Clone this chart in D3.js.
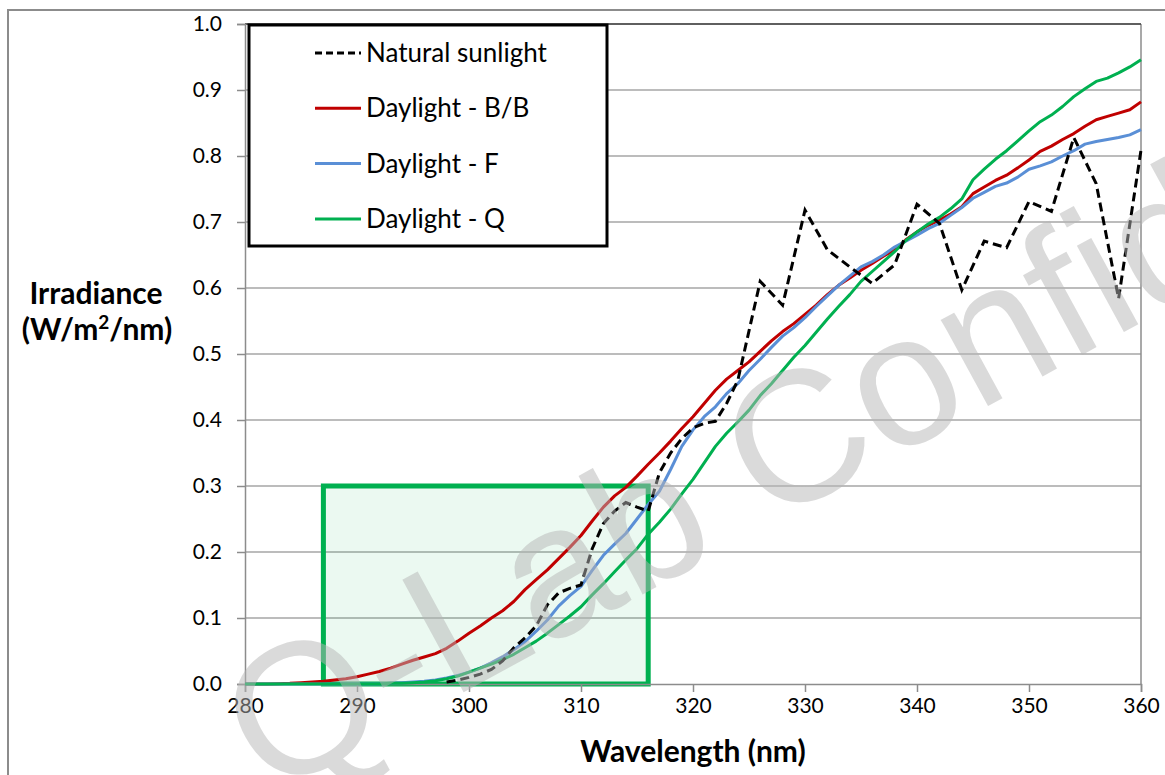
<!DOCTYPE html>
<html>
<head>
<meta charset="utf-8">
<script src="https://cdn.jsdelivr.net/npm/d3@7"></script>
<style>
  body { margin: 0; background: #fff; }
  svg text { font-family: Lato, "Open Sans", sans-serif; }
</style>
</head>
<body>
<div id="canvas"></div>
<script>
// wavelength grid for the lamp spectra (nm)
const lampNm = [280,281,282,283,284,285,286,287,288,289,
  290,291,292,293,294,295,296,297,298,299,
  300,301,302,303,304,305,306,307,308,309,
  310,311,312,313,314,315,316,317,318,319,
  320,321,322,323,324,325,326,327,328,329,
  330,331,332,333,334,335,336,337,338,339,
  340,341,342,343,344,345,346,347,348,349,
  350,351,352,353,354,355,356,357,358,359,360];

const daylightBB = [0,0,0,0.0005,0.001,0.002,0.003,0.004,0.006,0.008,
  0.011,0.015,0.019,0.024,0.030,0.036,0.041,0.046,0.054,0.065,
  0.077,0.088,0.100,0.111,0.125,0.143,0.158,0.173,0.190,0.207,
  0.225,0.247,0.268,0.285,0.298,0.315,0.333,0.350,0.368,0.387,
  0.405,0.425,0.445,0.462,0.475,0.488,0.504,0.520,0.534,0.546,
  0.560,0.574,0.590,0.604,0.615,0.627,0.637,0.648,0.658,0.673,
  0.685,0.695,0.703,0.712,0.723,0.743,0.753,0.763,0.771,0.782,
  0.794,0.807,0.815,0.825,0.834,0.845,0.855,0.860,0.865,0.870,0.882];

const daylightF = [0,0,0,0,0,0,0,0,0,0,
  0,0,0,0.001,0.002,0.003,0.004,0.006,0.009,0.013,
  0.018,0.024,0.032,0.041,0.052,0.064,0.080,0.097,0.118,0.134,
  0.148,0.172,0.195,0.212,0.228,0.250,0.272,0.292,0.325,0.360,
  0.385,0.405,0.420,0.440,0.455,0.475,0.492,0.510,0.527,0.540,
  0.555,0.572,0.588,0.604,0.618,0.632,0.640,0.650,0.662,0.671,
  0.680,0.690,0.698,0.710,0.722,0.736,0.745,0.754,0.759,0.768,
  0.780,0.785,0.791,0.800,0.808,0.818,0.822,0.825,0.828,0.832,0.840];

const daylightQ = [0,0,0,0,0,0,0,0,0,0,
  0,0,0,0.001,0.001,0.002,0.003,0.005,0.008,0.012,
  0.018,0.024,0.030,0.037,0.045,0.055,0.065,0.077,0.090,0.103,
  0.117,0.135,0.152,0.170,0.188,0.205,0.227,0.245,0.265,0.288,
  0.310,0.335,0.360,0.380,0.397,0.415,0.437,0.455,0.475,0.495,
  0.513,0.533,0.553,0.572,0.590,0.610,0.625,0.640,0.655,0.672,
  0.685,0.697,0.707,0.720,0.735,0.764,0.780,0.795,0.808,0.823,
  0.838,0.852,0.862,0.875,0.890,0.902,0.913,0.918,0.926,0.935,0.946];

// natural sunlight, measured on its own wavelength grid
const sunNm = [298,299,300,301,302,303,304,305,306,307,308,309,310,311,312,313,314,315,316,317,318,319,
  320,321,322,323,324,326,328,330,332,334,336,338,340,342,344,346,348,350,352,354,356,358,360];
const sunlight = [0.003,0.006,0.010,0.015,0.022,0.035,0.055,0.070,0.088,0.120,0.138,0.145,0.150,0.205,0.243,0.262,0.275,0.268,0.262,0.320,0.350,0.372,
  0.388,0.395,0.398,0.425,0.460,0.610,0.574,0.718,0.658,0.632,0.607,0.635,0.727,0.698,0.597,0.671,0.661,0.731,0.716,0.828,0.758,0.584,0.809];

const xTicks = [280,290,300,310,320,330,340,350,360];
const yTicks = [0,0.1,0.2,0.3,0.4,0.5,0.6,0.7,0.8,0.9,1.0];
const seriesNames = ["Natural sunlight","Daylight - B/B","Daylight - F","Daylight - Q"];
const seriesColors = ["#000000","#c00000","#5a8fd6","#00b050"];
const uvbBox = {x0: 287, x1: 316, y0: 0, y1: 0.3};

const width = 1165, height = 775;
const margin = {top: 24, left: 245, bottom: 91, right: 24};
const iwidth = width - margin.left - margin.right;
const iheight = height - margin.top - margin.bottom;

const svg = d3.select("#canvas").append("svg")
  .attr("width", width).attr("height", height);

// outer chart frame
svg.append("rect").attr("x", 8).attr("y", 10).attr("width", 1170).attr("height", 780)
  .attr("fill", "#fff").attr("stroke", "#8c8c8c").attr("stroke-width", 2);

const g = svg.append("g").attr("transform", `translate(${margin.left},${margin.top})`);

const x = d3.scaleLinear().domain([280, 360]).range([0, iwidth]);
const y = d3.scaleLinear().domain([0, 1]).range([iheight, 0]);

// gridlines
g.append("g").selectAll("line").data(yTicks.slice(1)).enter().append("line")
  .attr("x1", 0).attr("x2", iwidth)
  .attr("y1", d => y(d)).attr("y2", d => y(d))
  .attr("stroke", "#a6a6a6").attr("stroke-width", 1.5);

// right and top border of plot area
g.append("line").attr("x1", iwidth).attr("x2", iwidth).attr("y1", 0).attr("y2", iheight)
  .attr("stroke", "#8c8c8c").attr("stroke-width", 1.5);
g.append("line").attr("x1", 0).attr("x2", iwidth).attr("y1", 0).attr("y2", 0)
  .attr("stroke", "#404040").attr("stroke-width", 1.5);

// highlighted UV-B box
g.append("rect")
  .attr("x", x(uvbBox.x0)).attr("y", y(uvbBox.y1))
  .attr("width", x(uvbBox.x1) - x(uvbBox.x0))
  .attr("height", y(uvbBox.y0) - y(uvbBox.y1))
  .attr("fill", "#00b050").attr("fill-opacity", 0.08)
  .attr("stroke", "#00b050").attr("stroke-width", 5);

// axes
const xAxis = g.append("g").attr("transform", `translate(0,${iheight})`)
  .call(d3.axisBottom(x).tickValues(xTicks).tickSize(8).tickPadding(6).tickFormat(d3.format("d")));
const yAxis = g.append("g")
  .call(d3.axisLeft(y).tickValues(yTicks).tickSize(8).tickPadding(15).tickFormat(d3.format(".1f")));
[xAxis, yAxis].forEach(a => {
  a.select(".domain").attr("stroke", "#8c8c8c").attr("stroke-width", 1.5);
  a.selectAll(".tick line").attr("stroke", "#8c8c8c").attr("stroke-width", 1.5);
  a.selectAll(".tick text").attr("fill", "#000").style("font-size", "21px")
    .style("font-family", "Lato, sans-serif");
});

// series lines
const line = d3.line().x(d => x(d[0])).y(d => y(d[1]));
const lamps = [daylightBB, daylightF, daylightQ];
lamps.forEach((vals, i) => {
  g.append("path").datum(lampNm.map((n, k) => [n, vals[k]]))
    .attr("fill", "none").attr("stroke", seriesColors[i + 1])
    .attr("stroke-width", 3).attr("stroke-linejoin", "round")
    .attr("d", line);
});
g.append("path").datum(sunNm.map((n, k) => [n, sunlight[k]]))
  .attr("fill", "none").attr("stroke", seriesColors[0])
  .attr("stroke-width", 3).attr("stroke-dasharray", "9,5")
  .attr("d", line);

// legend
const leg = svg.append("g");
leg.append("rect").attr("x", 249).attr("y", 25).attr("width", 358).attr("height", 221)
  .attr("fill", "#fff").attr("stroke", "#000").attr("stroke-width", 3);
seriesNames.forEach((name, i) => {
  const ly = 53 + i * 55.3;
  leg.append("line").attr("x1", 315).attr("x2", 361).attr("y1", ly).attr("y2", ly)
    .attr("stroke", seriesColors[i]).attr("stroke-width", 3)
    .attr("stroke-dasharray", i === 0 ? "7,4" : null);
  leg.append("text").attr("x", 366).attr("y", ly).attr("dy", "0.35em")
    .style("font-size", "26px").text(name);
});

// axis titles
svg.append("text").attr("x", 693).attr("y", 762).attr("text-anchor", "middle")
  .style("font-size", "30px").style("font-weight", "bold").text("Wavelength (nm)");
const yt = svg.append("text").attr("text-anchor", "middle")
  .style("font-size", "30px").style("font-weight", "bold");
yt.append("tspan").attr("x", 96).attr("y", 304).text("Irradiance");
const t2 = yt.append("tspan").attr("x", 97).attr("y", 340);
t2.text("(W/m");
t2.append("tspan").attr("dy", -11).style("font-size", "19px").text("2");
yt.append("tspan").attr("dy", 11).text("/nm)");

// watermark
svg.append("text")
  .attr("transform", "translate(300,705) rotate(-28.6)")
  .attr("x", -72).attr("y", 67)
  .style("font-family", "'Liberation Sans', Arial, sans-serif")
  .style("font-size", "186px")
  .attr("fill", "#b5b5b5").attr("fill-opacity", 0.5)
  .text("Q-Lab Confidential");
</script>
</body>
</html>
